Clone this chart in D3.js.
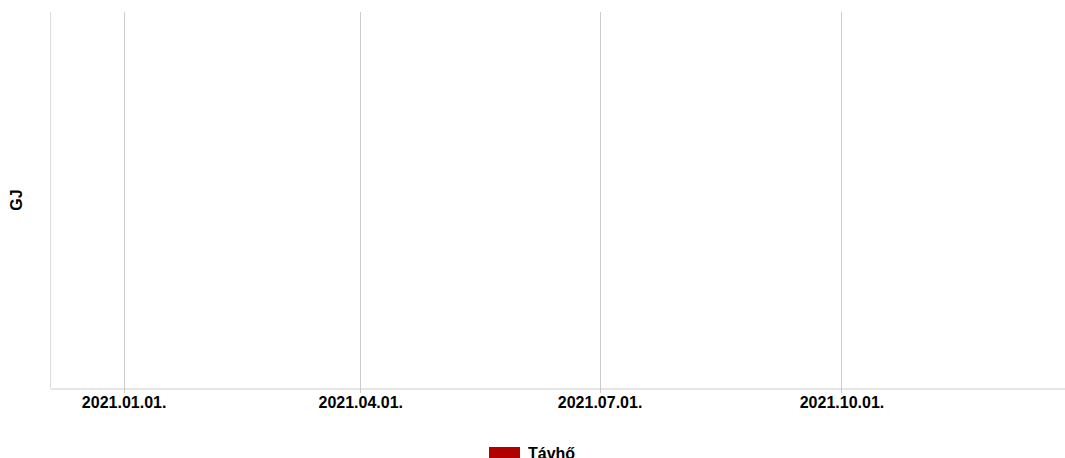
<!DOCTYPE html>
<html>
<head>
<meta charset="utf-8">
<script src="https://cdn.jsdelivr.net/npm/d3@7"></script>
<style>
  body { margin: 0; background: #fff; }
  text { font-family: "Liberation Sans", Arial, sans-serif; font-weight: bold; }
</style>
</head>
<body>
<div id="chart"></div>
<script>
// chart data (the series has no points in the reference)
var seriesNames = ["Távhő"];
var seriesColors = ["#b00000"];
var seriesValues = [[]];   // [{date, value}] per series - empty
var tickDates = ["2021-01-01", "2021-04-01", "2021-07-01", "2021-10-01"];
var dateDomain = ["2020-12-04", "2021-12-25"];
var yLabel = "GJ";

var w = 1065,
    h = 458,
    margin = {top: 12, right: 0, bottom: 70, left: 50};

var parse = d3.timeParse("%Y-%m-%d");

var x = d3.scaleTime()
    .domain(dateDomain.map(parse))
    .range([margin.left, w - margin.right]);

var y = d3.scaleLinear()
    .domain([0, 1])
    .range([h - margin.bottom, margin.top]);

var svg = d3.select("#chart").append("svg")
    .attr("width", w)
    .attr("height", h);

// vertical grid lines
svg.append("g")
    .selectAll("line")
    .data(tickDates.map(parse))
    .enter().append("line")
    .attr("x1", function(d) { return Math.round(x(d)) + 0.5; })
    .attr("x2", function(d) { return Math.round(x(d)) + 0.5; })
    .attr("y1", margin.top)
    .attr("y2", h - margin.bottom + 5)
    .attr("stroke", "#cccccc");

// x axis
var xAxis = svg.append("g")
    .attr("transform", "translate(0," + (h - margin.bottom + 0.5) + ")")
    .call(d3.axisBottom(x)
        .tickValues(tickDates.map(parse))
        .tickFormat(d3.timeFormat("%Y.%m.%d."))
        .tickSize(0)
        .tickPadding(8));
xAxis.select(".domain").attr("stroke", "#cccccc");
xAxis.selectAll("text")
    .attr("fill", "#000")
    .style("font-size", "16px");

// y axis line
svg.append("line")
    .attr("x1", margin.left + 0.5)
    .attr("x2", margin.left + 0.5)
    .attr("y1", margin.top)
    .attr("y2", h - margin.bottom)
    .attr("stroke", "#dddddd");

// y label
svg.append("text")
    .attr("transform", "translate(22," + ((margin.top + h - margin.bottom) / 2) + ") rotate(-90)")
    .attr("text-anchor", "middle")
    .style("font-size", "16px")
    .text(yLabel);

// series (empty)
var line = d3.line()
    .x(function(d) { return x(parse(d.date)); })
    .y(function(d) { return y(d.value); });
seriesValues.forEach(function(s, i) {
    svg.append("path")
        .datum(s)
        .attr("fill", "none")
        .attr("stroke", seriesColors[i])
        .attr("d", line);
});

// legend
var legend = svg.append("g")
    .attr("transform", "translate(489,447)");
legend.selectAll("rect")
    .data(seriesNames)
    .enter().append("rect")
    .attr("width", 31)
    .attr("height", 14)
    .attr("fill", function(d, i) { return seriesColors[i]; });
legend.selectAll("text")
    .data(seriesNames)
    .enter().append("text")
    .attr("x", 39)
    .attr("y", 12)
    .style("font-size", "16px")
    .text(function(d) { return d; });
</script>
</body>
</html>
